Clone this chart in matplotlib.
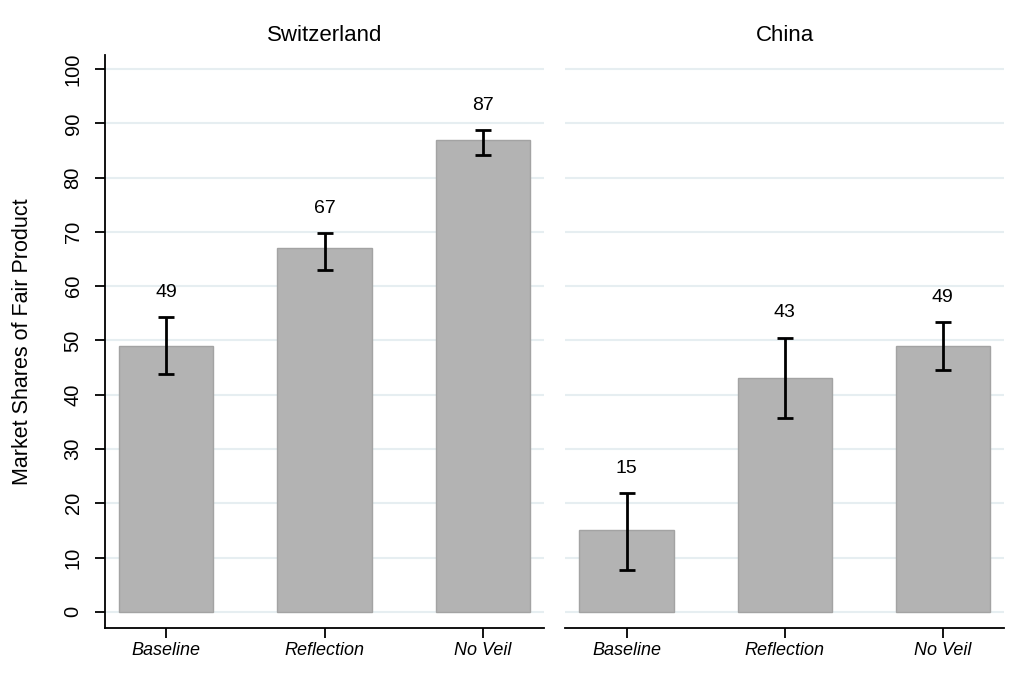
import matplotlib.pyplot as plt

plt.rcParams['font.family'] = ['Liberation Sans', 'DejaVu Sans']

countries = ['Switzerland', 'China']
treatments = ['Baseline', 'Reflection', 'No Veil']
shares = {
    'Switzerland': [49, 67, 87],
    'China': [15, 43, 49],
}
ci_low = {
    'Switzerland': [43.8, 63.0, 84.2],
    'China': [7.7, 35.7, 44.6],
}
ci_high = {
    'Switzerland': [54.3, 69.8, 88.8],
    'China': [21.9, 50.5, 53.4],
}

fig = plt.figure(figsize=(10.27, 6.87), dpi=100)
axes = [fig.add_axes([0.102, 0.086, 0.428, 0.834]),
        fig.add_axes([0.550, 0.086, 0.428, 0.834])]

x = [1, 2, 3]
for ax, c in zip(axes, countries):
    vals = shares[c]
    lo = [v - l for v, l in zip(vals, ci_low[c])]
    hi = [h - v for v, h in zip(vals, ci_high[c])]
    for y in range(0, 101, 10):
        ax.axhline(y, color='#e6eef1', lw=1.5, zorder=0)
    ax.bar(x, vals, width=0.595, color='#b3b3b3', edgecolor='#a3a3a3', lw=1, zorder=2)
    ax.errorbar(x, vals, yerr=[lo, hi], fmt='none', ecolor='black',
                elinewidth=2, capsize=6, capthick=2, zorder=3)
    for xi, h, v in zip(x, ci_high[c], vals):
        ax.text(xi, h + 3.0, str(v), ha='center', va='bottom', fontsize=14)
    ax.set_xlim(0.61, 3.39)
    ax.set_ylim(-2.95, 102.6)
    ax.set_xticks(x)
    ax.set_xticklabels(treatments, fontstyle='italic', fontsize=13)
    ax.tick_params(axis='x', length=7, width=1.3, pad=3)
    ax.set_title(c, fontsize=16, pad=10)
    for s in ['top', 'right']:
        ax.spines[s].set_visible(False)
    ax.spines['bottom'].set_linewidth(1.3)
    ax.spines['left'].set_linewidth(1.3)

axes[0].set_yticks(range(0, 101, 10))
axes[0].set_yticklabels([str(v) for v in range(0, 101, 10)], rotation=90, va='center', fontsize=14.5)
axes[0].tick_params(axis='y', length=7, width=1.3, pad=9)
axes[0].set_ylabel('Market Shares of Fair Product', fontsize=15.5, labelpad=22)

axes[1].spines['left'].set_visible(False)
axes[1].set_yticks([])

fig.savefig('out.png', dpi=100, facecolor='white')
